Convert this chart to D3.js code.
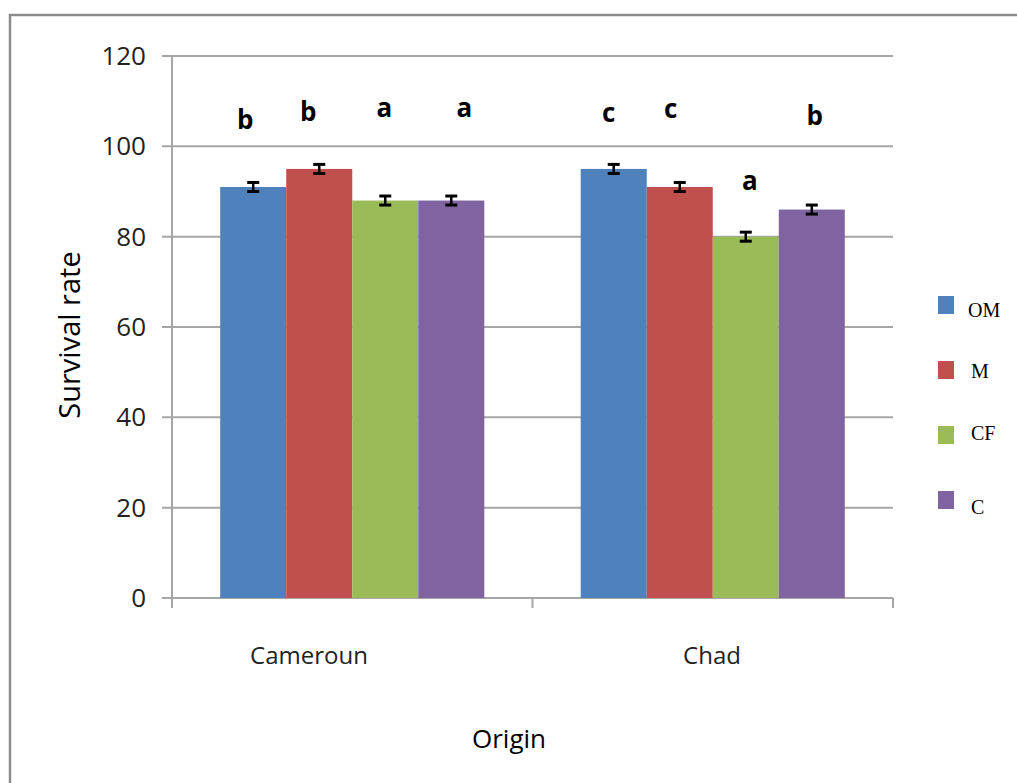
<!DOCTYPE html>
<html>
<head>
<meta charset="utf-8">
<script src="https://cdn.jsdelivr.net/npm/d3@7"></script>
<style>
  body { margin: 0; background: #fff; }
  svg { display: block; }
</style>
</head>
<body>
<div id="viz"></div>
<script>
// data
const origins = ['Cameroun', 'Chad'];
const treatments = ['OM', 'M', 'CF', 'C'];
const colors = ['#4F81BD', '#C0504D', '#9BBB59', '#8064A2'];
const survival = [[91, 95, 88, 88], [95, 91, 80, 86]];
const errors = [[1, 1, 1, 1], [1, 1, 1, 1]];
const letters = [['b', 'b', 'a', 'a'], ['c', 'c', 'a', 'b']];
const letterY = [[129, 121, 117, 117], [122, 118, 190, 125]]; // baselines as read
const letterDx = [[-8, -11, -1, 13], [-5, -9, 4, 3]]; // letters sit a bit off-centre
const yTicks = [0, 20, 40, 60, 80, 100, 120];

const width = 1017, height = 783;
const plot = { left: 172, right: 893, top: 56, bottom: 598 };

const svg = d3.select('#viz').append('svg')
  .attr('width', width).attr('height', height);

// outer frame
svg.append('rect')
  .attr('x', 10).attr('y', 15).attr('width', 1020).attr('height', 800)
  .attr('fill', 'none').attr('stroke', '#8c8c8c').attr('stroke-width', 2.5);

const y = d3.scaleLinear().domain([0, 120]).range([plot.bottom, plot.top]);
const x0 = d3.scaleBand().domain(origins).range([plot.left, plot.right]).paddingInner(0).paddingOuter(0);
const x1 = d3.scaleBand().domain(treatments).range([0, x0.bandwidth()]).paddingOuter(0.73);

// gridlines + y ticks
svg.append('g').selectAll('line').data(yTicks).enter().append('line')
  .attr('x1', plot.left - 10).attr('x2', plot.right)
  .attr('y1', d => y(d)).attr('y2', d => y(d))
  .attr('stroke', '#a6a6a6').attr('stroke-width', 2);

svg.append('g').selectAll('text').data(yTicks).enter().append('text')
  .attr('x', 146).attr('y', d => y(d) + 9)
  .attr('text-anchor', 'end')
  .attr('font-family', 'Open Sans, sans-serif').attr('font-size', 26)
  .attr('fill', '#222')
  .text(d => d);

// y axis line
svg.append('line')
  .attr('x1', plot.left).attr('x2', plot.left)
  .attr('y1', plot.top).attr('y2', plot.bottom + 10)
  .attr('stroke', '#a6a6a6').attr('stroke-width', 2);

// x ticks
svg.append('g').selectAll('line').data([plot.left + x0.bandwidth(), plot.right]).enter().append('line')
  .attr('x1', d => d).attr('x2', d => d)
  .attr('y1', plot.bottom).attr('y2', plot.bottom + 10)
  .attr('stroke', '#a6a6a6').attr('stroke-width', 2);

// bars
const groups = svg.append('g').selectAll('g').data(origins).enter().append('g')
  .attr('transform', d => `translate(${x0(d)},0)`);

groups.each(function(o, gi) {
  const g = d3.select(this);
  treatments.forEach((t, i) => {
    const v = survival[gi][i], e = errors[gi][i];
    const bx = x1(t), bw = x1.bandwidth(), cx = bx + bw / 2;
    g.append('rect')
      .attr('x', bx).attr('y', y(v))
      .attr('width', bw).attr('height', y(0) - y(v))
      .attr('fill', colors[i]);
    // error bar
    g.append('line').attr('x1', cx).attr('x2', cx)
      .attr('y1', y(v + e)).attr('y2', y(v - e))
      .attr('stroke', '#000').attr('stroke-width', 2.5);
    [v + e, v - e].forEach(yy => {
      g.append('line').attr('x1', cx - 6).attr('x2', cx + 6)
        .attr('y1', y(yy)).attr('y2', y(yy))
        .attr('stroke', '#000').attr('stroke-width', 3);
    });
    // significance letter
    g.append('text')
      .attr('x', cx + letterDx[gi][i]).attr('y', letterY[gi][i])
      .attr('text-anchor', 'middle')
      .attr('font-family', 'Open Sans, sans-serif').attr('font-weight', 'bold')
      .attr('font-size', 26)
      .text(letters[gi][i]);
  });
});

// category labels
const catX = [309, 712];
svg.append('g').selectAll('text').data(origins).enter().append('text')
  .attr('x', (d, i) => catX[i]).attr('y', 664)
  .attr('text-anchor', 'middle')
  .attr('font-family', 'Open Sans, sans-serif').attr('font-size', 24)
  .attr('fill', '#222')
  .text(d => d);

// axis titles
svg.append('text')
  .attr('x', 509).attr('y', 748)
  .attr('text-anchor', 'middle')
  .attr('font-family', 'Open Sans, sans-serif').attr('font-size', 26)
  .text('Origin');

svg.append('text')
  .attr('transform', 'translate(80,335) rotate(-90)')
  .attr('text-anchor', 'middle')
  .attr('font-family', 'Open Sans, sans-serif').attr('font-size', 29)
  .text('Survival rate');

// legend
const legendTextY = [21, 17, 14, 23];
const legend = svg.append('g').selectAll('g').data(treatments).enter().append('g')
  .attr('transform', (d, i) => `translate(938,${296 + i * 65})`);
legend.append('rect')
  .attr('width', 16).attr('height', 18)
  .attr('fill', (d, i) => colors[i]);
legend.append('text')
  .attr('x', (d, i) => i === 0 ? 30 : 33).attr('y', (d, i) => legendTextY[i])
  .attr('font-family', 'Liberation Serif, serif').attr('font-size', 20)
  .text(d => d);
</script>
</body>
</html>
